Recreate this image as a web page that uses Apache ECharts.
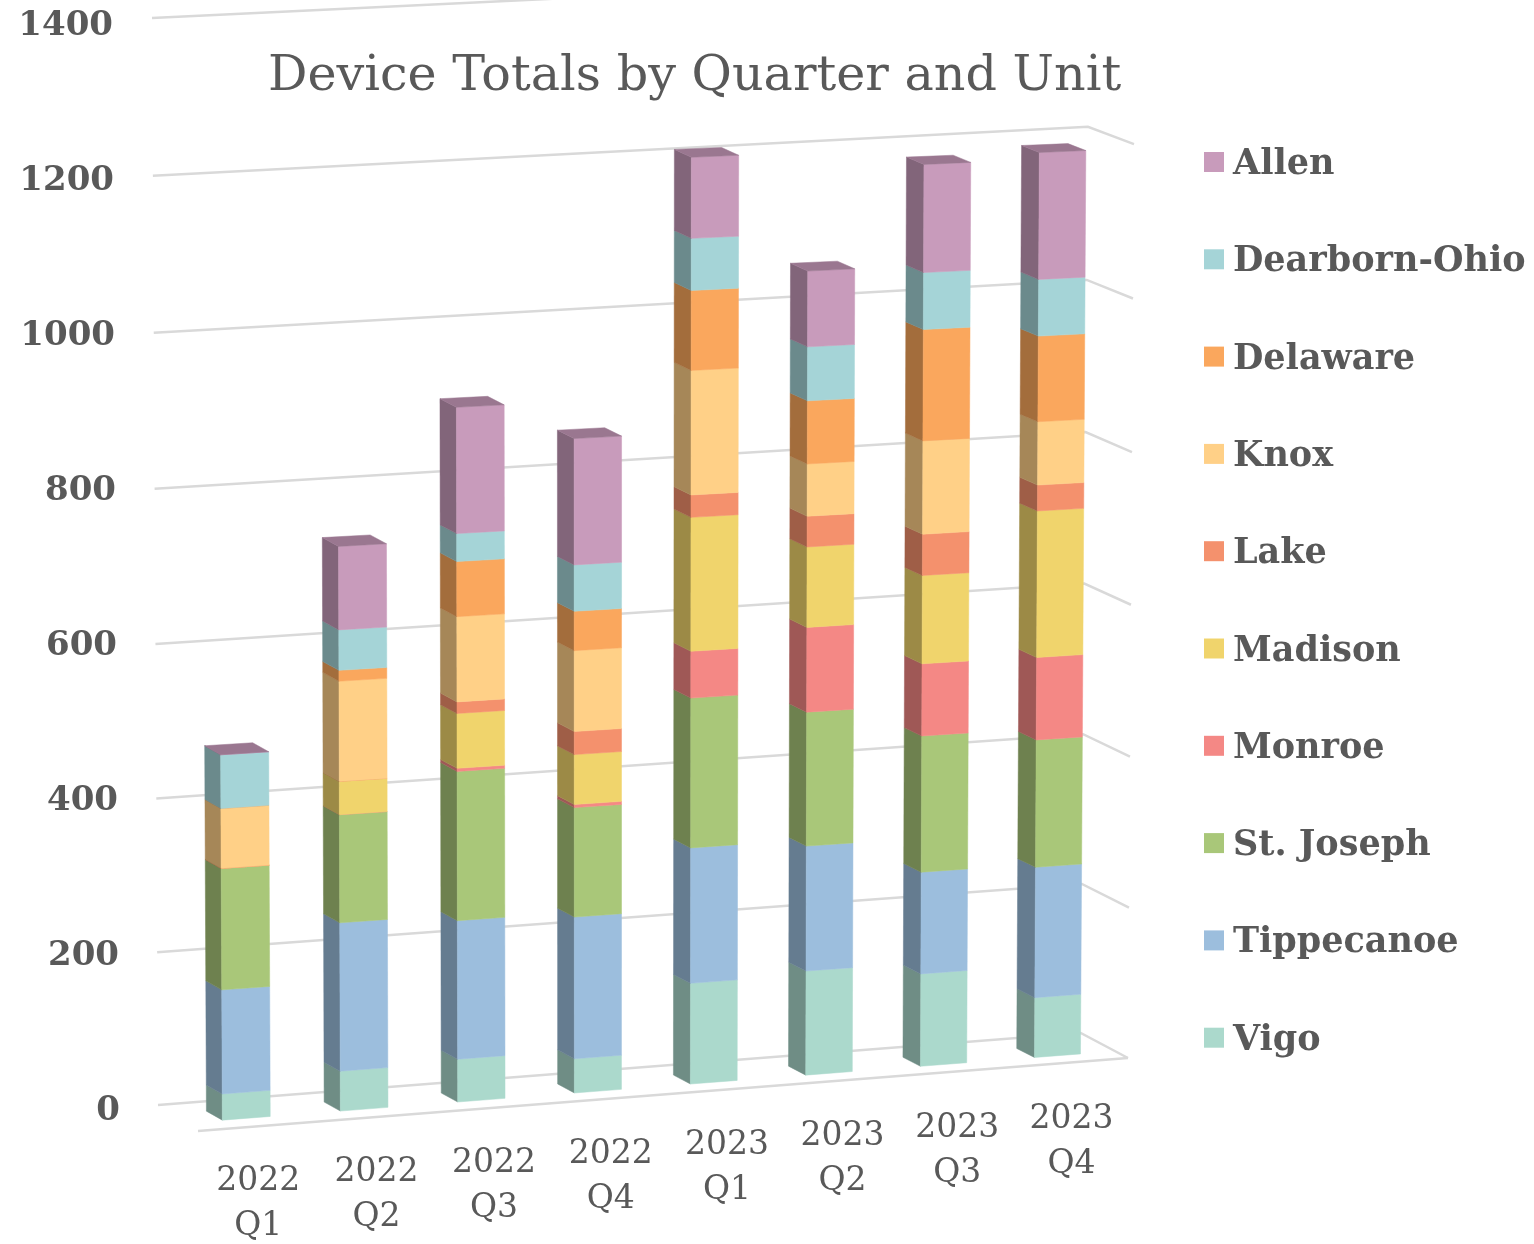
<!DOCTYPE html>
<html>
<head>
    <meta charset="UTF-8">
    <title>Device Totals by Quarter and Unit</title>
    <style>
        * {
            margin: 0;
            padding: 0
        }

        #chart {
            width: 1534px;
            height: 1244px;
            background: #fff;
        }
    </style>
</head>
<body>
<div id="chart"></div>
<script type="text/javascript" src="https://cdn.jsdelivr.net/npm/echarts@6/dist/echarts.min.js"></script>
<script type="text/javascript">
    var categories = ['2022\nQ1', '2022\nQ2', '2022\nQ3', '2022\nQ4', '2023\nQ1', '2023\nQ2', '2023\nQ3', '2023\nQ4'];
    var ticks = [0, 200, 400, 600, 800, 1000, 1200, 1400];

    // bottom of the stack first
    var vigo = [34, 52, 56, 45, 133, 138, 123, 80];
    var tippecanoe = [135, 193, 181, 186, 178, 165, 135, 174];
    var stJoseph = [157, 140, 194, 143, 196, 176, 180, 169];
    var monroe = [0, 0, 4, 4, 61, 111, 95, 109];
    var madison = [0, 43, 71, 65, 174, 105, 116, 193];
    var lake = [0, 0, 15, 30, 29, 40, 54, 34];
    var knox = [77, 129, 110, 105, 161, 68, 122, 83];
    var delaware = [0, 14, 71, 51, 103, 82, 145, 112];
    var dearbornOhio = [69, 52, 36, 60, 67, 70, 74, 74];
    var allen = [0, 107, 162, 163, 104, 98, 140, 165];

    var seriesNames = ['Vigo', 'Tippecanoe', 'St. Joseph', 'Monroe', 'Madison', 'Lake', 'Knox', 'Delaware', 'Dearborn-Ohio', 'Allen'];
    var seriesValues = [vigo, tippecanoe, stJoseph, monroe, madison, lake, knox, delaware, dearbornOhio, allen];
    var seriesColors = ['#abd9cc', '#9cbedd', '#a9c779', '#f48885', '#f0d46c', '#f4916d', '#ffd087', '#faa75d', '#a5d4d7', '#c89bbb'];

    var textColor = '#595959';
    var gridColor = '#d9d9d9';

    function lerp(a, b, f) {
        return a + (b - a) * f;
    }

    function shade(hex, f) {
        var n = parseInt(hex.slice(1), 16);
        return 'rgb(' + Math.round((n >> 16) * f) + ',' + Math.round(((n >> 8) & 255) * f) + ',' + Math.round((n & 255) * f) + ')';
    }

    // value axis gets slightly stretched towards the top (camera looks down)
    function bend(t) {
        return (t + 0.019 * t * t) / 1.019;
    }

    function axisPos(p, cs) {
        return {
            k: ((p[0] - cs.x) / cs.width * categories.length - 0.5) / (categories.length - 1),
            t: (cs.y + cs.height - p[1]) / cs.height
        };
    }

    // grid pixel -> perspective pixel, depth 0 = front face of the bar, 1 = back face
    function project(p, cs, depth) {
        var a = axisPos(p, cs);
        var k = a.k + 0.02 * a.k * (1 - a.k);
        var t = bend(a.t);
        var x = lerp(lerp(246.3, 1057.5, k), lerp(241.5, 1063.5, k), t);
        var y = lerp(lerp(1118.3, 1055.7, k), lerp(22, -8.3, k), t);
        return [x - depth * (16 + 1.8 * k), y - depth * (9 - 2.4 * k * t)];
    }

    function wallPoint(edge, t) {
        var f = bend(t);
        return [lerp(edge[0][0], edge[1][0], f), lerp(edge[0][1], edge[1][1], f)];
    }

    var wallLeft = [[158, 1105], [152, 18]];
    var wallCorner = [[1080.7, 1033], [1089.2, -27]];
    var wallSide = [[1128, 1058], [1135, -11]];
    var floorFront = [198, 1131];

    function poly(points, color) {
        return {
            type: 'polygon',
            shape: {points: points},
            style: {fill: color, stroke: color, lineWidth: 0.5}
        };
    }

    function renderStack(index) {
        return function (params, api) {
            var cs = params.coordSys;
            var half = api.size([1, 0])[0] * 0.2025;
            var c0 = api.coord([api.value(0), api.value(1)]);
            var c1 = api.coord([api.value(0), api.value(2)]);
            var fl0 = project([c0[0] - half, c0[1]], cs, 0);
            var fr0 = project([c0[0] + half, c0[1]], cs, 0);
            var fl1 = project([c1[0] - half, c1[1]], cs, 0);
            var fr1 = project([c1[0] + half, c1[1]], cs, 0);
            var bl0 = project([c0[0] - half, c0[1]], cs, 1);
            var bl1 = project([c1[0] - half, c1[1]], cs, 1);
            var br1 = project([c1[0] + half, c1[1]], cs, 1);
            var color = seriesColors[index];
            var children = [
                poly([fl0, fl1, bl1, bl0], shade(color, 0.65)),
                poly([fl0, fr0, fr1, fl1], color)
            ];
            // only the last series closes the bar with a lid
            if (index === seriesNames.length - 1) {
                children.push(poly([fl1, fr1, br1, bl1], shade(color, 0.77)));
            }
            return {type: 'group', children: children};
        };
    }

    function renderWall(params, api) {
        var cs = params.coordSys;
        var p = api.coord([0, api.value(0)]);
        var t = axisPos(p, cs).t;
        var lineStyle = {stroke: gridColor, lineWidth: 2.5, fill: null};
        var children = [{
            type: 'polyline',
            shape: {points: [wallPoint(wallLeft, t), wallPoint(wallCorner, t), wallPoint(wallSide, t)]},
            style: lineStyle
        }];
        if (api.value(0) === 0) {
            children.push({
                type: 'line',
                shape: {x1: floorFront[0], y1: floorFront[1], x2: wallSide[0][0], y2: wallSide[0][1]},
                style: lineStyle
            });
        }
        return {type: 'group', children: children};
    }

    function renderCategoryLabel(params, api) {
        var i = api.value(0);
        var pos = project(api.coord([i, 0]), params.coordSys, 0);
        var k = i / (categories.length - 1);
        return {
            type: 'text',
            style: {
                x: pos[0] + 12 + 2 * k,
                y: pos[1] + 86,
                text: categories[i],
                align: 'center',
                verticalAlign: 'middle',
                fill: textColor,
                font: '33px "DejaVu Serif"',
                lineHeight: 45
            }
        };
    }

    var richTicks = {};
    ticks.forEach(function (v) {
        richTicks['t' + v] = {
            fontFamily: 'DejaVu Serif',
            fontWeight: 'bold',
            fontSize: 34,
            color: textColor,
            padding: [8, v / 200, 0, 0]
        };
    });

    var series = [{
        type: 'custom',
        data: ticks.map(function (v) {
            return [v];
        }),
        encode: {y: 0},
        renderItem: renderWall,
        silent: true,
        clip: false
    }];

    seriesNames.forEach(function (name, s) {
        var data = categories.map(function (c, i) {
            var base = 0;
            for (var j = 0; j < s; j++) {
                base += seriesValues[j][i];
            }
            return [i, base, base + seriesValues[s][i]];
        });
        series.push({
            name: name,
            type: 'custom',
            itemStyle: {color: seriesColors[s]},
            data: data,
            encode: {x: 0, y: [1, 2]},
            renderItem: renderStack(s),
            clip: false
        });
    });

    series.push({
        type: 'custom',
        data: categories.map(function (c, i) {
            return [i];
        }),
        encode: {x: 0},
        renderItem: renderCategoryLabel,
        silent: true,
        clip: false
    });

    var myChart = echarts.init(document.getElementById('chart'));
    myChart.setOption({
        animation: false,
        backgroundColor: '#fff',
        title: {
            text: 'Device Totals by Quarter and Unit',
            left: 268,
            top: 53,
            padding: 0,
            textStyle: {
                fontFamily: 'DejaVu Serif',
                fontWeight: 'normal',
                fontSize: 49.2,
                color: textColor
            }
        },
        legend: {
            orient: 'vertical',
            left: 1204,
            top: 141.5,
            padding: 0,
            itemWidth: 20,
            itemHeight: 20,
            itemGap: 56.3,
            icon: 'rect',
            data: seriesNames.slice().reverse(),
            selectedMode: false,
            formatter: '{a|{name}}',
            textStyle: {
                rich: {
                    a: {
                        fontFamily: 'DejaVu Serif',
                        fontWeight: 'bold',
                        fontSize: 35,
                        lineHeight: 40,
                        padding: [6, 0, 0, 4],
                        color: textColor
                    }
                }
            }
        },
        grid: {
            left: 130,
            right: 400,
            top: 22,
            bottom: 137
        },
        xAxis: {
            type: 'category',
            data: categories,
            show: false
        },
        yAxis: {
            type: 'value',
            min: 0,
            max: 1400,
            interval: 200,
            axisLine: {show: false},
            axisTick: {show: false},
            splitLine: {show: false},
            axisLabel: {
                margin: 10,
                formatter: function (v) {
                    return '{t' + v + '|' + v + '}';
                },
                rich: richTicks
            }
        },
        series: series
    });
</script>
</body>
</html>
